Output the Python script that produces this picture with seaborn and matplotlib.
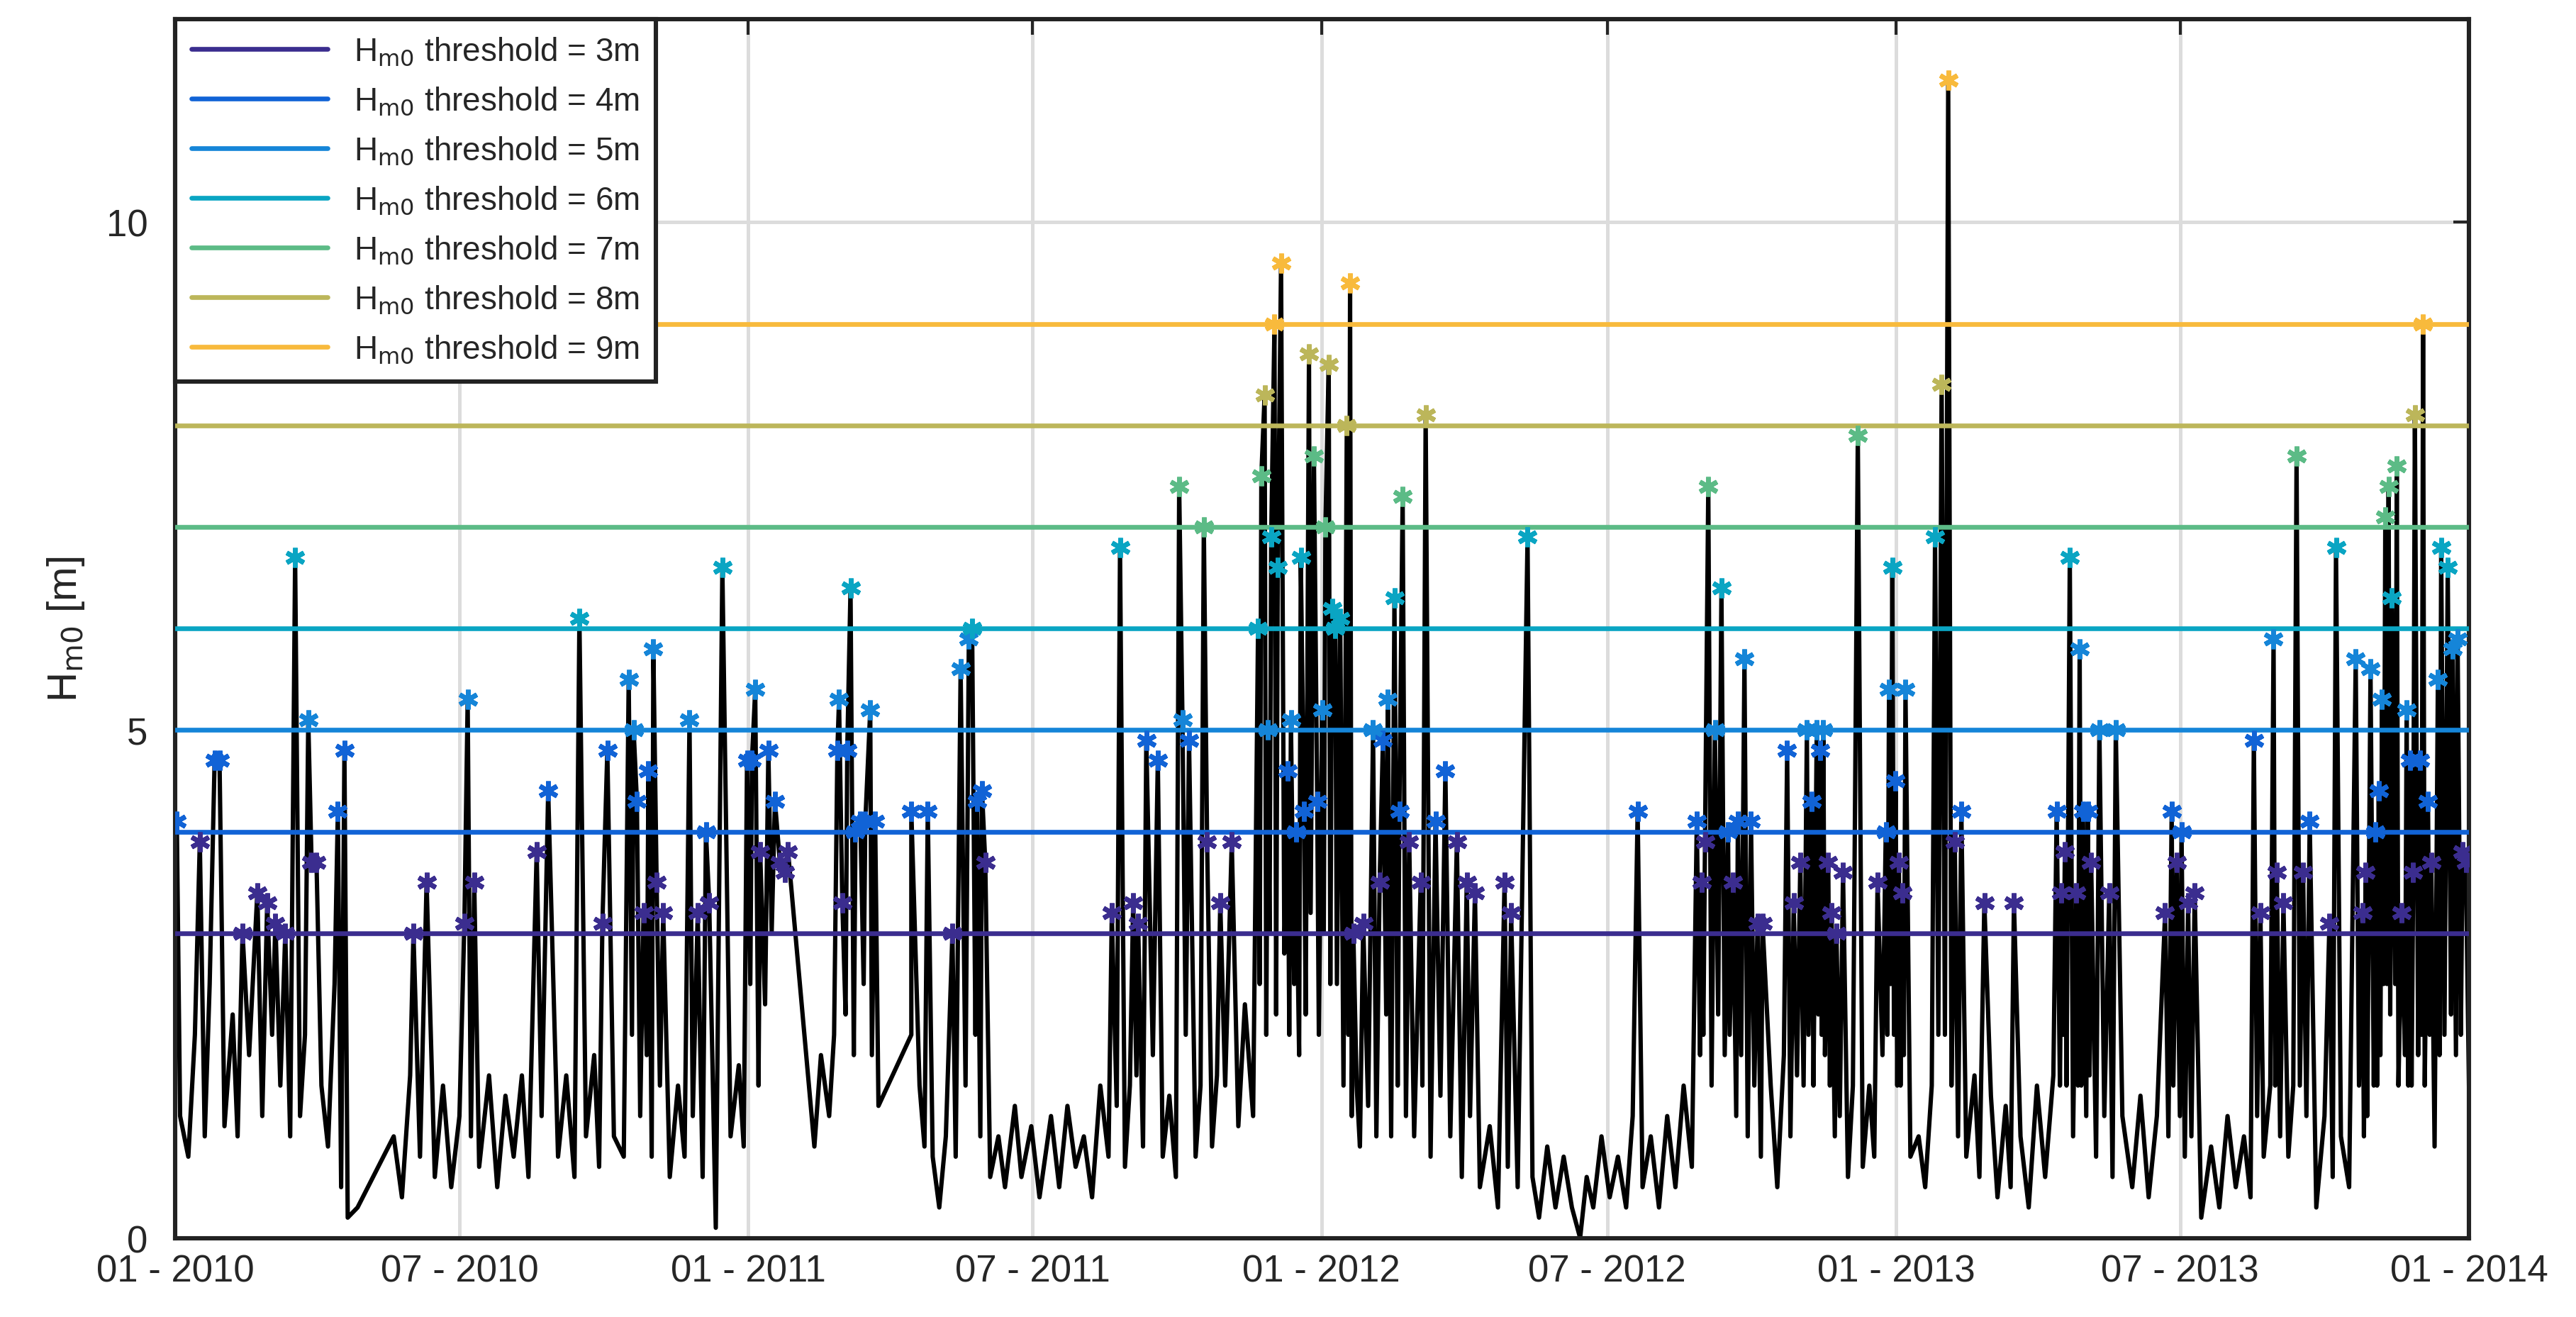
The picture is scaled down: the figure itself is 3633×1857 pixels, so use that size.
import numpy as np
import pandas as pd
import seaborn as sns
import matplotlib.pyplot as plt
import matplotlib.dates as mdates

# time readings on the plot's day scale (0 = 01-2010, 1396 = 01-2014), converted to calendar days below
peak_t = [1, 15, 41, 50, 56, 61, 67, 73, 81, 83, 86, 24, 27, 99, 103, 145, 153, 176, 178, 182,
          220, 227, 246, 260, 263, 276, 279, 281, 285, 288, 291, 293, 297, 313, 318, 323, 325, 333,
          348, 351, 353, 356, 361, 365, 368, 371, 373, 403, 404, 406, 409, 411, 414, 417, 420, 423,
          426, 448, 458, 473, 478, 483, 485, 488, 491, 493, 570, 575, 583, 586, 591, 598, 611, 613,
          617, 626, 628, 636, 643, 659, 661, 663, 665, 667, 669, 671, 673, 677, 679, 682, 685, 687,
          690, 693, 695, 698, 700, 702, 704, 706, 709, 713, 715, 717, 723, 729, 733, 735, 738, 742,
          745, 747, 751, 758, 761, 767, 773, 780, 786, 791, 809, 813, 823, 890, 926, 929, 931, 933,
          937, 941, 945, 948, 951, 955, 959, 963, 966, 981, 985, 989, 993, 996, 999, 1001, 1003, 1006,
          1008, 1011, 1015, 1024, 1036, 1041, 1043, 1045, 1047, 1049, 1051, 1053, 1071, 1075, 1079,
          1083, 1087, 1101, 1119, 1145, 1148, 1150, 1153, 1157, 1159, 1161, 1164, 1166, 1171, 1177,
          1181, 1211, 1215, 1218, 1221, 1225, 1229, 1265, 1269, 1277, 1279, 1283, 1291, 1295, 1299,
          1311, 1315, 1327, 1331, 1333, 1336, 1339, 1341, 1343, 1345, 1347, 1349, 1352, 1355, 1358,
          1360, 1362, 1363, 1366, 1368, 1371, 1373, 1377, 1379, 1383, 1386, 1389, 1392, 1394]
peak_hm0 = [4.1, 3.9, 3.0, 3.4, 3.3, 3.1, 3.0, 6.7, 5.1, 3.7, 3.7, 4.7, 4.7, 4.2, 4.8, 3.0, 3.5, 3.1, 5.3, 3.5,
            3.8, 4.4, 6.1, 3.1, 4.8, 5.5, 5.0, 4.3, 3.2, 4.6, 5.8, 3.5, 3.2, 5.1, 3.2, 4.0, 3.3, 6.6,
            4.7, 4.7, 5.4, 3.8, 4.8, 4.3, 3.7, 3.6, 3.8, 4.8, 5.3, 3.3, 4.8, 6.4, 4.0, 4.1, 4.1, 5.2,
            4.1, 4.2, 4.2, 3.0, 5.6, 5.9, 6.0, 4.3, 4.4, 3.7, 3.2, 6.8, 3.3, 3.1, 4.9, 4.7, 7.4, 5.1,
            4.9, 7.0, 3.9, 3.3, 3.9, 6.0, 7.5, 8.3, 5.0, 6.9, 9.0, 6.6, 9.6, 4.6, 5.1, 4.0, 6.7, 4.2,
            8.7, 7.7, 4.3, 5.2, 7.0, 8.6, 6.2, 6.0, 6.1, 8.0, 9.4, 3.0, 3.1, 5.0, 3.5, 4.9, 5.3, 6.3,
            4.2, 7.3, 3.9, 3.5, 8.1, 4.1, 4.6, 3.9, 3.5, 3.4, 3.5, 3.2, 6.9, 4.2, 4.1, 3.5, 3.9, 7.4,
            5.0, 6.4, 4.0, 3.5, 4.1, 5.7, 4.1, 3.1, 3.1, 4.8, 3.3, 3.7, 5.0, 4.3, 5.0, 4.8, 5.0, 3.7,
            3.2, 3.0, 3.6, 7.9, 3.5, 4.0, 5.4, 6.6, 4.5, 3.7, 3.4, 5.4, 6.9, 8.4, 11.4, 3.9, 4.2,
            3.3, 3.3, 4.2, 3.4, 3.8, 6.7, 3.4, 5.8, 4.2, 4.2, 3.7, 5.0, 3.4, 5.0, 3.2, 4.2, 3.7,
            4.0, 3.3, 3.4, 4.9, 3.2, 5.9, 3.6, 3.3, 7.7, 3.6, 4.1, 3.1, 6.8, 5.7, 3.2, 3.6, 5.6,
            4.0, 4.4, 5.3, 7.1, 7.4, 6.3, 7.6, 3.2, 5.2, 4.7, 3.6, 8.1, 4.7, 9.0, 4.3, 3.7, 5.5, 6.8,
            6.6, 5.8, 5.9, 3.8, 3.7]

low_t = [3, 8, 12, 18, 21, 30, 35, 38, 45, 53, 59, 64, 70, 76, 79, 89, 93, 97, 101, 105, 111, 133,
         138, 143, 149, 158, 163, 168, 173, 180, 185, 191, 196, 201, 206, 211, 215, 223, 233, 238, 243,
         250, 255, 258, 267, 273, 278, 283, 287, 290, 295, 301, 306, 310, 315, 321, 329, 338, 343, 346,
         350, 355, 359, 363, 389, 393, 398, 401, 408, 413, 419, 424, 428, 448, 453, 456, 461, 465, 469,
         475, 481, 487, 490, 496, 501, 505, 511, 515, 521, 526, 533, 538, 543, 548, 553, 558, 563, 568,
         573, 578, 581, 585, 589, 595, 601, 605, 609, 615, 621, 624, 631, 634, 639, 647, 651, 656, 660,
         664, 666, 670, 675, 678, 681, 684, 688, 691, 696, 699, 703, 707, 711, 714, 716, 719, 721, 726,
         731, 737, 740, 744, 749, 754, 759, 764, 770, 776, 783, 788, 794, 800, 805, 811, 817, 826, 830,
         835, 840, 845, 850, 855, 859, 863, 868, 873, 878, 883, 887, 893, 898, 903, 908, 913, 918, 923,
         928, 930, 935, 939, 943, 946, 950, 953, 957, 961, 965, 971, 975, 979, 983, 987, 991, 994, 997,
         1000, 1002, 1004, 1007, 1010, 1013, 1018, 1021, 1027, 1031, 1034, 1039, 1042, 1044, 1046, 1048,
         1050, 1052, 1056, 1061, 1065, 1069, 1073, 1077, 1081, 1085, 1090, 1095, 1098, 1105, 1109, 1114,
         1117, 1123, 1128, 1133, 1138, 1143, 1147, 1149, 1151, 1155, 1158, 1160, 1163, 1165, 1169, 1174,
         1179, 1185, 1191, 1196, 1201, 1206, 1213, 1216, 1220, 1223, 1227, 1233, 1239, 1244, 1249, 1254,
         1259, 1263, 1267, 1271, 1275, 1278, 1281, 1286, 1289, 1293, 1297, 1303, 1308, 1313, 1318, 1323,
         1329, 1332, 1334, 1338, 1340, 1342, 1344, 1346, 1348, 1351, 1353, 1357, 1359, 1361, 1365, 1367,
         1369, 1372, 1375, 1378, 1381, 1385, 1388, 1391, 1396]
low_hm0 = [1.2, 0.8, 2.0, 1.0, 2.5, 1.1, 2.2, 1.0, 1.8, 1.2, 2.0, 1.5, 1.0, 1.2, 2.0, 1.5, 0.9, 2.5, 0.5, 0.2, 0.3,
           1.0, 0.4, 1.6, 0.8, 0.6, 1.5, 0.5, 1.2, 1.0, 0.7, 1.6, 0.5, 1.4, 0.8, 1.6, 0.6, 1.2, 0.8, 1.6,
           0.6, 1.0, 1.8, 0.7, 1.0, 0.8, 2.0, 1.2, 1.8, 0.8, 1.5, 0.6, 1.5, 0.8, 1.2, 0.6, 0.1, 1.0, 1.7,
           0.9, 2.5, 1.5, 2.3, 3.0, 0.9, 1.8, 1.2, 2.0, 2.2, 1.8, 2.5, 1.8, 1.3, 2.0, 1.5, 0.9, 0.8, 0.3,
           1.0, 0.8, 1.5, 2.0, 1.0, 0.6, 1.0, 0.5, 1.3, 0.6, 1.1, 0.4, 1.2, 0.5, 1.3, 0.7, 1.0, 0.4, 1.5,
           0.8, 1.3, 0.7, 1.5, 1.6, 0.9, 1.8, 0.8, 1.4, 0.6, 2.0, 0.8, 1.5, 0.9, 1.6, 1.5, 1.1, 2.3, 1.2,
           2.5, 2.0, 3.0, 2.2, 2.8, 2.0, 2.5, 1.8, 2.2, 3.2, 2.0, 3.0, 2.5, 2.5, 1.5, 2.0, 1.2, 1.5, 0.9,
           1.3, 1.0, 2.2, 1.0, 1.5, 1.2, 1.0, 1.5, 0.8, 1.4, 1.0, 0.6, 1.2, 0.5, 1.1, 0.3, 0.7, 0.5, 0.6,
           0.2, 0.9, 0.3, 0.8, 0.3, 0.0, 0.6, 0.3, 1.0, 0.4, 0.8, 0.3, 1.2, 0.5, 1.0, 0.3, 1.2, 0.5, 1.5,
           0.7, 1.8, 2.0, 1.5, 2.2, 1.8, 2.0, 1.2, 1.8, 1.0, 1.5, 0.8, 1.5, 0.5, 1.8, 1.0, 1.6, 1.5, 2.0,
           1.5, 2.2, 2.0, 1.8, 1.5, 1.0, 1.2, 0.6, 1.5, 0.7, 1.5, 0.8, 1.8, 2.0, 2.5, 2.0, 1.5, 1.5, 1.8,
           0.8, 1.0, 0.5, 1.5, 2.0, 2.0, 1.5, 1.0, 0.8, 1.6, 0.6, 1.4, 0.4, 1.3, 0.5, 1.0, 0.3, 1.5, 0.6,
           1.6, 1.5, 2.0, 1.5, 1.0, 1.5, 1.5, 1.2, 1.6, 0.8, 1.2, 0.6, 1.2, 0.5, 1.4, 0.4, 1.2, 1.0, 1.5,
           1.2, 0.8, 1.0, 0.2, 0.9, 0.3, 1.2, 0.5, 1.0, 0.4, 1.2, 0.8, 1.5, 1.5, 1.0, 0.8, 1.5, 1.5, 1.2,
           0.3, 1.2, 0.6, 1.0, 0.5, 1.5, 1.0, 1.2, 1.5, 1.5, 1.8, 2.5, 2.5, 2.2, 2.5, 1.5, 1.8, 1.5, 1.5,
           1.8, 2.0, 1.5, 2.0, 0.9, 1.8, 2.0, 2.2, 1.8, 2.0, 1.4]
low_t = low_t[:len(low_hm0)]
low_hm0 = low_hm0[:len(low_t)]

thresholds = [3, 4, 5, 6, 7, 8, 9]
thr_colors = ['#3b2d8f', '#1163d6', '#1585d8', '#0aa5c3', '#5cbb86', '#bcb65a', '#f8ba3c']

start = pd.Timestamp('2010-01-01')
day_scale = 1461 / 1396
def to_date(t):
    return start + pd.to_timedelta(np.asarray(t, dtype=float) * day_scale, unit='D')

peaks = pd.DataFrame({'date': to_date(peak_t), 'hm0': peak_hm0})
series = pd.concat([peaks, pd.DataFrame({'date': to_date(low_t), 'hm0': low_hm0})]).sort_values('date')
peaks['level'] = [max([t for t in thresholds if v >= t]) for v in peaks['hm0']]

sns.set_style('white')
plt.rcParams['font.family'] = ['Arial', 'Liberation Sans', 'DejaVu Sans']
fig = plt.figure(figsize=(18.165, 9.29), dpi=200)
ax = fig.add_axes([0.068, 0.06, 0.8905, 0.925])

ax.plot(series['date'], series['hm0'], color='black', lw=2.2, zorder=2)
for t, c in zip(thresholds, thr_colors):
    ax.axhline(t, color=c, lw=2.4, zorder=3, label=r'H$_{\rm m0}$ threshold = %dm' % t)
for t, c in zip(thresholds, thr_colors):
    sub = peaks[peaks['level'] == t]
    ax.plot(sub['date'], sub['hm0'], ls='none', marker=(6, 2, 0), ms=10, mew=2.4,
            color=c, zorder=4)

ax.set_xlim(pd.Timestamp('2010-01-01'), pd.Timestamp('2014-01-01'))
ax.set_ylim(0, 12)
ax.set_yticks([0, 5, 10])
ax.xaxis.set_major_locator(mdates.MonthLocator(bymonth=[1, 7]))
ax.xaxis.set_major_formatter(mdates.DateFormatter('%m - %Y'))
ax.grid(True, color='#dcdcdc', lw=1.8, zorder=0)
ax.set_axisbelow(True)
ax.tick_params(labelsize=19, direction='in', length=8, width=1.5, top=True, right=True)
ax.tick_params(axis='y', pad=14)
ax.tick_params(axis='x', pad=8)
for s in ax.spines.values():
    s.set_linewidth(2.2)
    s.set_color('#222222')
ax.set_ylabel(r'H$_{\rm m0}$ [m]', fontsize=21, labelpad=10)

leg = ax.legend(loc='upper left', fontsize=16.5, frameon=True, fancybox=False,
                handlelength=4.2, borderaxespad=0, labelspacing=0.55, borderpad=0.5)
leg.get_frame().set_edgecolor('#222222')
leg.get_frame().set_linewidth(2.2)
leg.get_frame().set_alpha(1)

fig.savefig('out.png', dpi=200)
